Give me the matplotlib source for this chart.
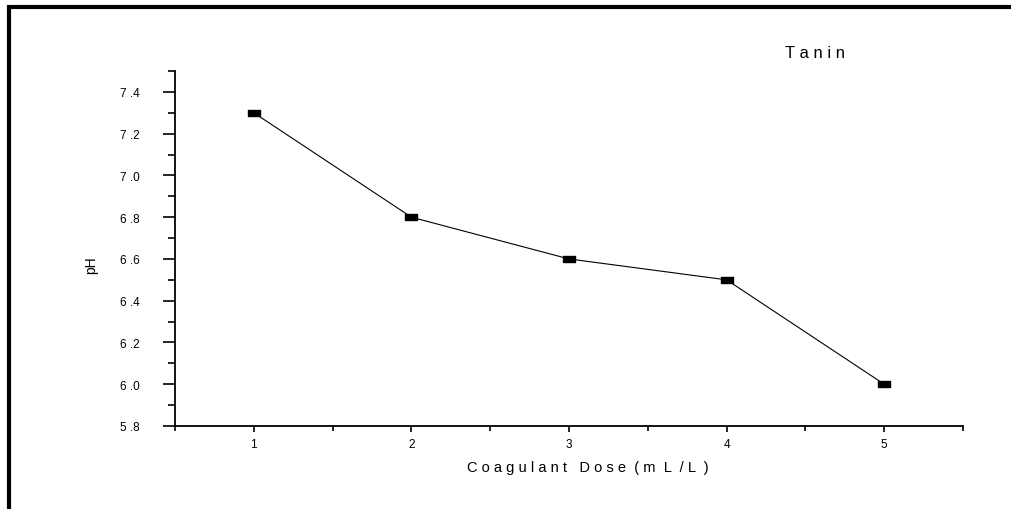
import matplotlib
matplotlib.use("Agg")
import matplotlib.pyplot as plt
from matplotlib.lines import Line2D
from matplotlib.path import Path

plt.rcParams['font.family'] = ['Liberation Sans', 'DejaVu Sans']

dose = [1, 2, 3, 4, 5]
ph = [7.3, 6.8, 6.6, 6.5, 6.0]
x_ticks = [1, 2, 3, 4, 5]
x_tick_labels = ["1", "2", "3", "4", "5"]
y_ticks = [5.8, 6.0, 6.2, 6.4, 6.6, 6.8, 7.0, 7.2, 7.4]
y_tick_labels = ["5 .8", "6 .0", "6 .2", "6 .4", "6 .6", "6 .8", "7 .0", "7 .2", "7 .4"]
series_name = "T a n i n"
x_label = "C o a g u l a n t   D o s e  ( m  L  / L  )"
y_label = "pH"

W, H = 1011, 510
fig = plt.figure(figsize=(W / 100, H / 100), dpi=100)
ax = fig.add_axes([175 / W, 1 - 427 / H, (963 - 175) / W, (427 - 72) / H])

rect = Path([(-1, -0.5), (1, -0.5), (1, 0.5), (-1, 0.5), (-1, -0.5)],
            [Path.MOVETO, Path.LINETO, Path.LINETO, Path.LINETO, Path.CLOSEPOLY])
ax.plot(dose, ph, color='black', lw=0.8, marker=rect, markersize=8.5,
        markerfacecolor='black', markeredgecolor='black')

ax.set_xlim(0.5, 5.5)
ax.set_ylim(5.8, 7.5)
ax.set_xticks(x_ticks)
ax.set_xticklabels(x_tick_labels, fontsize=8.5)
ax.set_xticks([0.5, 1.5, 2.5, 3.5, 4.5, 5.5], minor=True)
ax.set_yticks(y_ticks)
ax.set_yticklabels(y_tick_labels, fontsize=8.5)
ax.set_yticks([5.9, 6.1, 6.3, 6.5, 6.7, 6.9, 7.1, 7.3, 7.5], minor=True)
ax.tick_params(axis='x', which='major', direction='out', length=4.5, width=1.2, pad=4)
ax.tick_params(axis='x', which='minor', direction='out', length=3.5, width=1.2)
ax.tick_params(axis='y', which='major', direction='out', length=8.6, width=1.2, pad=17)
ax.tick_params(axis='y', which='minor', direction='out', length=5, width=1.2)
for s in ['top', 'right']:
    ax.spines[s].set_visible(False)
for s in ['left', 'bottom']:
    ax.spines[s].set_linewidth(1.3)

fig.text(588 / W, 1 - 468 / H, x_label, ha='center', va='center', fontsize=10.5)
fig.text(91 / W, 1 - 265 / H, y_label, ha='center', va='center', fontsize=10, rotation=90)
fig.text(815 / W, 1 - 53 / H, series_name, ha='center', va='center', fontsize=12)

# frame lines (top and left)
fig.add_artist(Line2D([9 / W, 1.0], [1 - 8 / H, 1 - 8 / H], transform=fig.transFigure,
                      color='black', lw=3, solid_capstyle='butt'))
fig.add_artist(Line2D([9 / W, 9 / W], [1 - 6 / H, 0.0], transform=fig.transFigure,
                      color='black', lw=3, solid_capstyle='butt'))

fig.savefig("out.png", dpi=100)
